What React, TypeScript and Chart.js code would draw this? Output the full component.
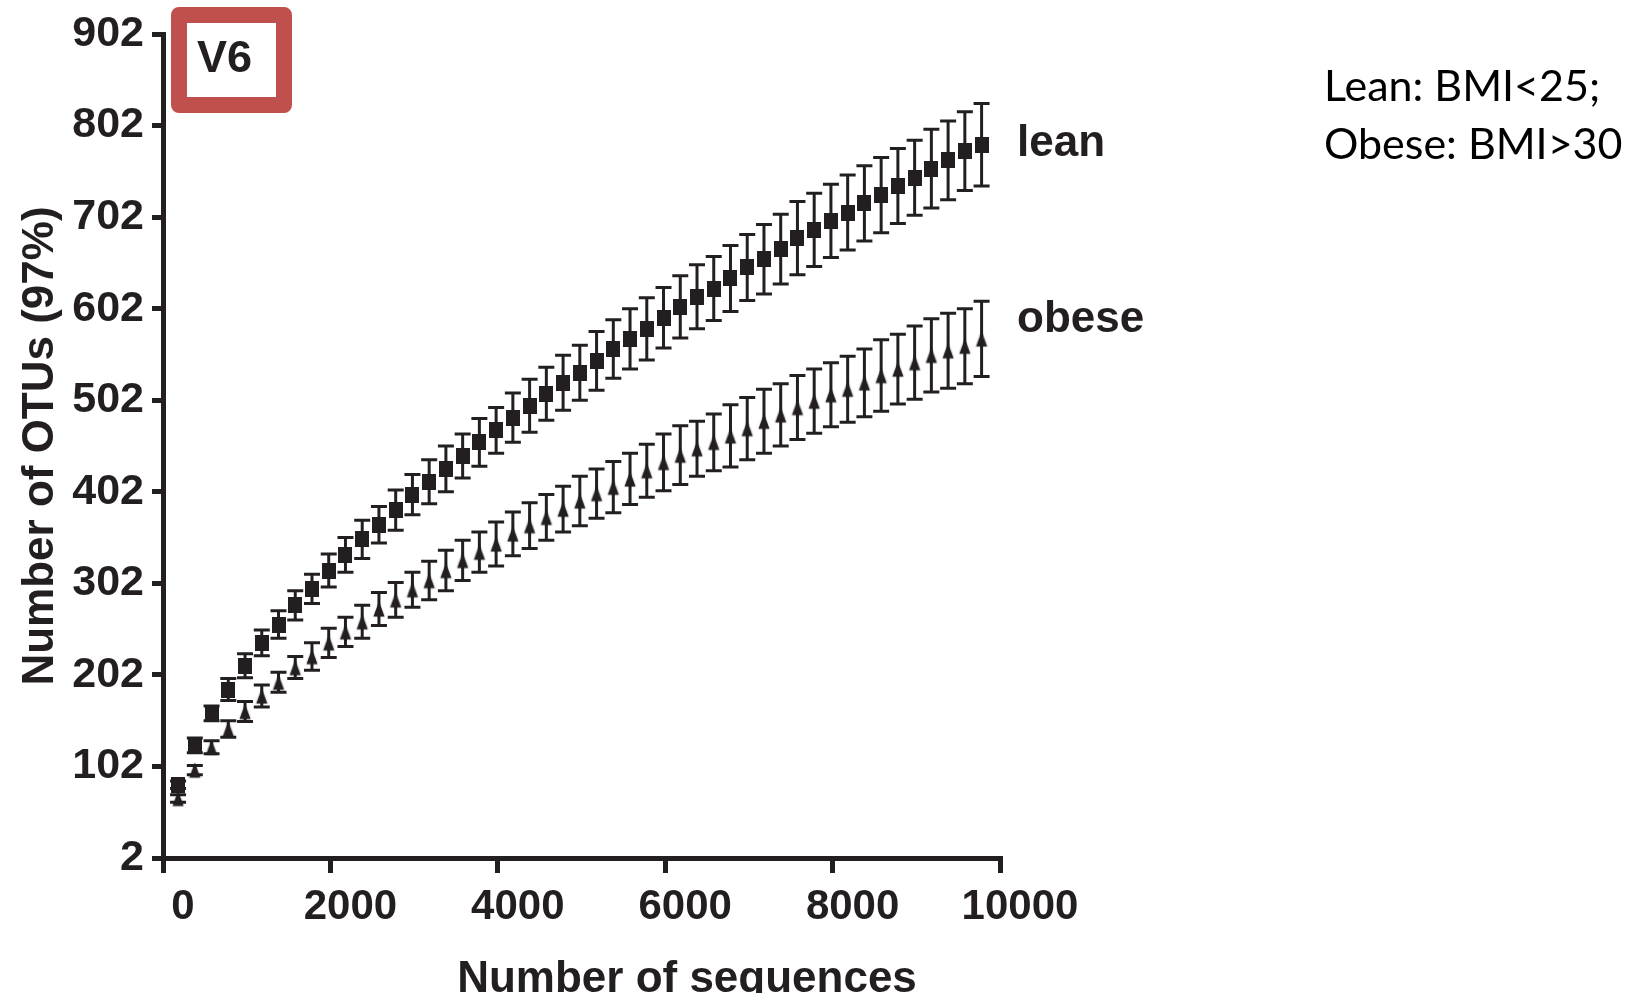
import React, { useEffect, useRef } from "react";
import { Chart, registerables } from "chart.js";

Chart.register(...registerables);

// ---- data ----
const sequences = [180, 380, 580, 780, 980, 1180, 1380, 1580, 1780, 1980, 2180, 2380, 2580, 2780, 2980, 3180, 3380, 3580, 3780, 3980, 4180, 4380, 4580, 4780, 4980, 5180, 5380, 5580, 5780, 5980, 6180, 6380, 6580, 6780, 6980, 7180, 7380, 7580, 7780, 7980, 8180, 8380, 8580, 8780, 8980, 9180, 9380, 9580, 9780];

const leanOTUs = [82, 125, 160, 186, 212, 237, 257, 278, 296, 316, 333, 350, 366, 382, 399, 413, 427, 441, 456, 469, 483, 496, 509, 521, 532, 545, 558, 569, 580, 592, 604, 615, 624, 635, 647, 656, 667, 679, 688, 698, 707, 717, 726, 736, 745, 755, 764, 774, 781];
const leanSD = [4, 8, 8, 12, 13, 14, 15, 16, 16, 18, 19, 21, 20, 22, 22, 24, 25, 24, 26, 25, 27, 29, 29, 30, 30, 32, 32, 33, 34, 33, 34, 35, 35, 36, 36, 38, 38, 40, 40, 40, 41, 41, 41, 41, 41, 43, 43, 43, 45];

const obeseOTUs = [67, 98, 123, 143, 162, 179, 194, 210, 222, 237, 249, 260, 274, 284, 295, 305, 316, 327, 336, 345, 356, 365, 374, 383, 392, 400, 407, 416, 425, 434, 442, 449, 456, 463, 471, 479, 486, 494, 501, 508, 514, 521, 529, 536, 543, 551, 556, 561, 569];
const obeseSD = [4, 5, 7, 9, 11, 12, 11, 12, 15, 16, 16, 18, 18, 19, 19, 21, 22, 22, 22, 24, 24, 25, 25, 25, 27, 27, 28, 28, 29, 31, 32, 30, 31, 34, 34, 35, 34, 35, 35, 35, 36, 37, 39, 38, 40, 40, 41, 41, 41];

const xTicks = [0, 2000, 4000, 6000, 8000, 10000];
const yTicks = [2, 102, 202, 302, 402, 502, 602, 702, 802, 902];

const seriesNames = ["lean", "obese"];
const xTitle = "Number of sequences";
const yTitle = "Number of OTUs (97%)";
const panelTag = "V6";
const noteLines = ["Lean: BMI<25;", "Obese: BMI>30"];

const INK = "#231f20";
const BOX_RED = "#c0504d";
const FONT = "'Liberation Sans', Arial, sans-serif";

function makeSquare(): HTMLCanvasElement {
  const c = document.createElement("canvas");
  c.width = 14;
  c.height = 16;
  const g = c.getContext("2d")!;
  g.fillStyle = INK;
  g.fillRect(0, 0, 14, 16);
  return c;
}

function makeTriangle(): HTMLCanvasElement {
  const c = document.createElement("canvas");
  c.width = 14;
  c.height = 18;
  const g = c.getContext("2d")!;
  g.shadowColor = "rgba(0,0,0,0.35)";
  g.shadowBlur = 2;
  g.fillStyle = INK;
  g.beginPath();
  g.moveTo(7, 1.5);
  g.lineTo(12.5, 16.5);
  g.lineTo(1.5, 16.5);
  g.closePath();
  g.fill();
  return c;
}

const errorBarPlugin = {
  id: "errorBars",
  beforeDatasetsDraw(chart: any) {
    const { ctx } = chart;
    const x = chart.scales.x;
    const y = chart.scales.y;
    const sets: [number[], number[]][] = [
      [leanOTUs, leanSD],
      [obeseOTUs, obeseSD],
    ];
    ctx.save();
    ctx.strokeStyle = INK;
    ctx.lineWidth = 3;
    ctx.lineCap = "butt";
    sets.forEach(([m, s]) => {
      sequences.forEach((sx, i) => {
        const px = x.getPixelForValue(sx);
        const top = y.getPixelForValue(m[i] + s[i]);
        const bot = y.getPixelForValue(m[i] - s[i]);
        ctx.beginPath();
        ctx.moveTo(px, top);
        ctx.lineTo(px, bot);
        ctx.moveTo(px - 8, top);
        ctx.lineTo(px + 8, top);
        ctx.moveTo(px - 8, bot);
        ctx.lineTo(px + 8, bot);
        ctx.stroke();
      });
    });
    ctx.restore();
  },
};

const annotationPlugin = {
  id: "annotations",
  afterDraw(chart: any) {
    const { ctx } = chart;
    ctx.save();
    ctx.fillStyle = INK;
    ctx.textBaseline = "alphabetic";

    // series labels
    ctx.font = `bold 44px ${FONT}`;
    ctx.textAlign = "left";
    ctx.fillText(seriesNames[0], 1017, 156);
    ctx.fillText(seriesNames[1], 1017, 332);

    // x axis title (partly cut off at the bottom, as in the reference)
    ctx.textAlign = "center";
    ctx.fillText(xTitle, 687, 992);

    // V6 tag box
    ctx.strokeStyle = BOX_RED;
    ctx.lineWidth = 16;
    ctx.lineJoin = "round";
    ctx.strokeRect(179, 15, 105, 90);
    ctx.fillStyle = INK;
    ctx.textAlign = "left";
    ctx.font = `bold 45px ${FONT}`;
    ctx.fillText(panelTag, 197, 72);

    // note on the right
    ctx.fillStyle = "#000";
    ctx.font = `43px Lato, 'Open Sans', sans-serif`;
    ctx.fillText(noteLines[0], 1324, 101);
    ctx.fillText(noteLines[1], 1324, 159);
    ctx.restore();
  },
};

export default function App() {
  const ref = useRef<HTMLCanvasElement>(null);

  useEffect(() => {
    document.body.style.margin = "0";
    const canvas = ref.current!;
    const square = makeSquare();
    const triangle = makeTriangle();

    const chart = new Chart(canvas, {
      type: "scatter",
      data: {
        datasets: [
          {
            label: seriesNames[0],
            data: sequences.map((s, i) => ({ x: s, y: leanOTUs[i] })),
            pointStyle: square as any,
            pointRadius: 8,
            backgroundColor: INK,
            borderColor: INK,
            showLine: false,
          },
          {
            label: seriesNames[1],
            data: sequences.map((s, i) => ({ x: s, y: obeseOTUs[i] })),
            pointStyle: triangle as any,
            pointRadius: 8,
            backgroundColor: INK,
            borderColor: INK,
            showLine: false,
          },
        ],
      },
      options: {
        responsive: false,
        animation: false,
        devicePixelRatio: 1,
        clip: false as any,
        layout: { padding: { left: 0, right: 639, top: 34, bottom: 0 } },
        plugins: {
          legend: { display: false },
          tooltip: { enabled: false },
        },
        scales: {
          x: {
            type: "linear",
            min: 0,
            max: 10000,
            afterBuildTicks: (scale: any) => {
              scale.ticks = xTicks.map((v) => ({ value: v }));
            },
            afterFit: (scale: any) => {
              scale.height = 135;
            },
            border: { display: true, color: INK, width: 5 },
            grid: {
              display: true,
              drawOnChartArea: false,
              drawTicks: true,
              tickLength: 15,
              tickWidth: 5,
              tickColor: INK,
              lineWidth: 5,
              color: INK,
            },
            ticks: {
              color: INK,
              font: { family: FONT, size: 42, weight: "bold" },
              padding: 9,
              labelOffset: 20,
              maxRotation: 0,
              autoSkip: false,
              callback: (v: any) => String(v),
            },
          },
          y: {
            type: "linear",
            min: 2,
            max: 902,
            afterBuildTicks: (scale: any) => {
              scale.ticks = yTicks.map((v) => ({ value: v }));
            },
            afterFit: (scale: any) => {
              scale.width = 163;
            },
            border: { display: true, color: INK, width: 5 },
            grid: {
              display: true,
              drawOnChartArea: false,
              drawTicks: true,
              tickLength: 11,
              tickWidth: 5,
              tickColor: INK,
              lineWidth: 5,
              color: INK,
            },
            ticks: {
              color: INK,
              font: { family: FONT, size: 43, weight: "bold" },
              padding: 8,
              autoSkip: false,
              callback: (v: any) => String(v),
            },
            title: {
              display: true,
              text: yTitle,
              color: INK,
              font: { family: FONT, size: 44, weight: "bold" },
              padding: { top: 14, bottom: 0 },
            },
          },
        },
      },
      plugins: [errorBarPlugin, annotationPlugin],
    });

    return () => chart.destroy();
  }, []);

  return (
    <div
      style={{
        position: "relative",
        width: 1639,
        height: 993,
        overflow: "hidden",
        background: "#ffffff",
      }}
    >
      <canvas
        ref={ref}
        width={1639}
        height={993}
        style={{ position: "absolute", left: 0, top: 0, width: 1639, height: 993 }}
      />
    </div>
  );
}
